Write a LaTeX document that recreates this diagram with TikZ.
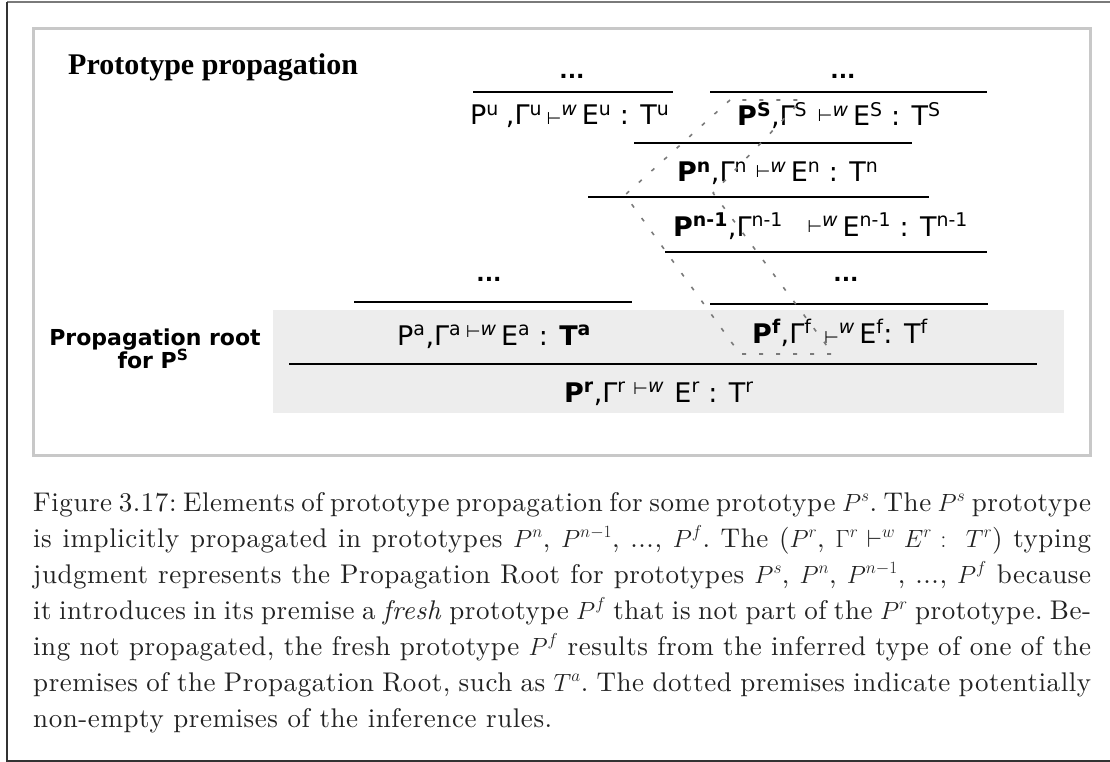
\documentclass[tikz,border=0pt]{standalone}
\usepackage{fontspec}
\newfontfamily\djv{DejaVu Sans}
\newfontfamily\tms{Liberation Serif}
\newfontfamily\capfont{lmroman10}[Extension=.otf, UprightFont=*-regular, ItalicFont=*-italic, BoldFont=*-bold, LetterSpace=2.1]
\usetikzlibrary{calc}

\definecolor{framedark}{HTML}{333333}
\definecolor{frametop}{HTML}{7A7A7A}
\definecolor{panelline}{HTML}{C8C8C8}
\definecolor{rootfill}{HTML}{EDEDED}
\definecolor{dotcol}{HTML}{7A7A7A}
\definecolor{captext}{HTML}{222222}

% superscript in the current font, and the small turnstile with w
\newcommand\sx[1]{\textsuperscript{#1}}
\newcommand\tv[1][4pt]{\,\raisebox{#1}{\fontsize{17}{17}\selectfont ⊢}\textsuperscript{\itshape w}\,}

\tikzset{
  judg/.style={anchor=base west, inner sep=0pt, font=\djv\fontsize{27}{30}\selectfont},
  dots/.style={anchor=base, inner sep=0pt, font=\djv\bfseries\fontsize{22}{24}\selectfont},
  rulebar/.style={line width=1.3pt, black},
  capline/.style={anchor=base west, inner sep=0pt, text=captext, font=\capfont\frenchspacing\fontsize{27}{36}\selectfont},
  dotted shape/.style={dotcol, line width=1.6pt, dash pattern=on 4pt off 13pt, line join=round}
}

\begin{document}
\begin{tikzpicture}[x=1pt, y=-1pt]
\useasboundingbox (0,0) rectangle (1110,762);

% outer figure frame
\draw[frametop, line width=1.2pt] (7,2) -- (1120,2);
\draw[framedark, line width=1.2pt] (7,2) -- (7,761) -- (1120,761);

% inner panel and shaded root band
\draw[panelline, line width=3pt] (33,29) rectangle (1090,455);
\fill[rootfill] (273,310) rectangle (1064,413);

% title and side label
\node[anchor=base west, inner sep=0pt, font=\tms\bfseries\fontsize{30}{32}\selectfont] (title) at (68,75) {Prototype propagation};
\node[anchor=base, inner sep=0pt, font=\djv\bfseries\fontsize{22}{24}\selectfont] (rootlbl) at (155,345) {Propagation root};
\node[anchor=base, inner sep=0pt, font=\djv\bfseries\fontsize{22}{24}\selectfont] (rootfor) at (153,368) {for P\sx{S}};

% inference bars
\draw[rulebar] (473,92) -- (673,92);
\draw[rulebar] (710,92) -- (987,92);
\draw[rulebar] (634,143) -- (912,143);
\draw[rulebar] (588,197) -- (929,197);
\draw[rulebar] (665,252) -- (987,252);
\draw[rulebar] (354,302) -- (632,302);
\draw[rulebar] (710,304) -- (988,304);
\draw[rulebar] (289,364) -- (1037,364);

% elided premises
\node[dots] (dtl) at (572,79) {...};
\node[dots] (dtr) at (843,79) {...};
\node[dots] (dml) at (489,281) {...};
\node[dots] (dmr) at (846,281) {...};

% typing judgments
\node[judg] (ju) at (470,125) {P\sx{u}\hspace{7pt},Γ\sx{u}\tv[0pt]E\sx{u} : T\sx{u}};
\node[judg] (js) at (737,126) {\textbf{P\sx{S}},Γ\sx{S}\hspace{6pt}\tv E\sx{S} : T\sx{S}};
\node[judg] (jn) at (677,182) {\textbf{P\sx{n}},Γ\sx{n}\hspace{4pt}\tv E\sx{n} : T\sx{n}};
\node[judg] (jn1) at (673,236) {\textbf{P\sx{n-1}},Γ\sx{n-1}\hspace{20pt}\tv E\sx{n-1} : T\sx{n-1}};
\node[judg] (ja) at (397,345) {P\sx{a},Γ\sx{a}\tv[8pt]E\sx{a} : \textbf{T\sx{a}}};
\node[judg] (jf) at (752,343) {\textbf{P\sx{f}},Γ\sx{f}\hspace{8pt}\tv[0pt]E\sx{f}: T\sx{f}};
\node[judg] (jr) at (564,402) {\textbf{P\sx{r}},Γ\sx{r}\hspace{3pt}\tv[8pt]\hspace{6pt}E\sx{r} : T\sx{r}};

% dotted outline of the propagated prototype
\coordinate (s1) at (730,100);
\coordinate (s2) at (625,195);
\coordinate (s3) at (740,354);
\coordinate (s4) at (833,354);
\coordinate (s5) at (713,193);
\coordinate (s6) at (802,100);
\draw[dotted shape] (s1) -- (s2) -- (s3) -- (s4) -- (s5) -- (s6) -- cycle;

% caption
\node[capline] (c1) at (33,511) {\makebox[1058pt][s]{Figure 3.17: Elements of prototype propagation for some prototype $P^s$. The $P^s$ prototype}};
\node[capline] (c2) at (33,547) {\makebox[1058pt][s]{is implicitly propagated in prototypes $P^n$, $P^{n-1}$, ..., $P^f$. The ($P^r$, $\Gamma^r \vdash^w E^r :\ T^r$) typing}};
\node[capline] (c3) at (33,583) {\makebox[1058pt][s]{judgment represents the Propagation Root for prototypes $P^s$, $P^n$, $P^{n-1}$, ..., $P^f$ because}};
\node[capline] (c4) at (33,619) {\makebox[1058pt][s]{it introduces in its premise a \textit{fresh} prototype $P^f$ that is not part of the $P^r$ prototype. Be-}};
\node[capline] (c5) at (33,655) {\makebox[1058pt][s]{ing not propagated, the fresh prototype $P^f$ results from the inferred type of one of the}};
\node[capline] (c6) at (33,691) {\makebox[1058pt][s]{premises of the Propagation Root, such as $T^a$. The dotted premises indicate potentially}};
\node[capline] (c7) at (33,727) {non-empty premises of the inference rules.};
\end{tikzpicture}
\end{document}
